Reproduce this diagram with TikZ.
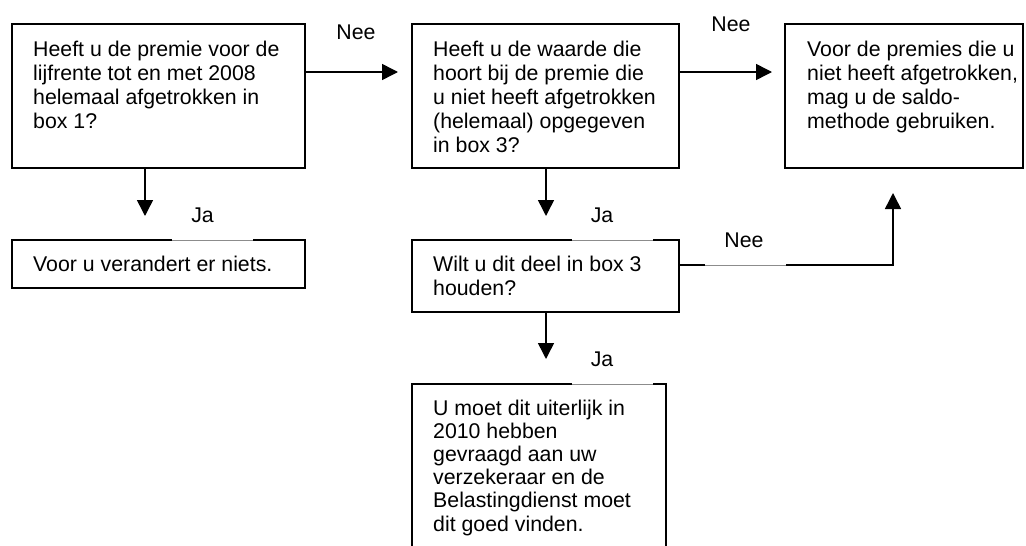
\documentclass[tikz,border=0pt]{standalone}
\usepackage{fontspec}
\setmainfont{Liberation Sans}
\usetikzlibrary{arrows.meta,calc}
\begin{document}
\begin{tikzpicture}[x=1pt,y=-1pt,
  box/.style={draw=black,line width=1.6pt,inner sep=0pt,outer sep=0pt,anchor=north west,rectangle},
  txt/.style={inner sep=0pt,anchor=north west,align=left,font=\fontsize{21.3pt}{24pt}\selectfont},
  lbl/.style={inner sep=0pt,anchor=base,font=\fontsize{21.3pt}{24pt}\selectfont},
  arr/.style={line width=1.5pt,-{Triangle[length=16pt,width=16pt]}},
  gapline/.style={draw=black!45,line width=0.6pt}]
\useasboundingbox (0,0) rectangle (1026,546);
\clip (0,0) rectangle (1026,546);
\fill[white] (0,0) rectangle (1026,546);
% boxes
\node[box,minimum width=293pt,minimum height=144pt] (b1) at (12,24) {};
\node[box,minimum width=267pt,minimum height=144pt] (b2) at (412,24) {};
\node[box,minimum width=238pt,minimum height=144pt] (b3) at (785,24) {};
\node[box,minimum width=293pt,minimum height=48pt] (bv) at (12,240) {};
\node[box,minimum width=267pt,minimum height=72pt] (b4) at (412,240) {};
\node[box,minimum width=254pt,minimum height=180pt] (b5) at (412,384) {};
% texts
\node[txt] (t1) at (33,40.5) {Heeft u de premie voor de\\lijfrente tot en met 2008\\helemaal afgetrokken in\\box 1?};
\node[txt] (t2) at (433,40.5) {Heeft u de waarde die\\hoort bij de premie die\\u niet heeft afgetrokken\\(helemaal) opgegeven\\in box 3?};
\node[txt] (t3) at (807,40.5) {Voor de premies die u\\niet heeft afgetrokken,\\mag u de saldo-\\methode gebruiken.};
\node[txt] (tv) at (33,255.5) {Voor u verandert er niets.};
\node[txt] (t4) at (433,255.5) {Wilt u dit deel in box 3\\houden?};
\node[txt,font=\fontsize{21.3pt}{23.2pt}\selectfont] (t5) at (433,399.5) {U moet dit uiterlijk in\\2010 hebben\\gevraagd aan uw\\verzekeraar en de\\Belastingdienst moet\\dit goed vinden.};
% connectors
\draw[arr,shorten >=14pt] ($(b1.north east)+(0,48)$) -- ($(b2.north west)+(0,48)$);
\draw[arr,shorten >=13pt] ($(b2.north east)+(0,48)$) -- ($(b3.north west)+(0,48)$);
\draw[arr,shorten >=24pt] ($(b1.south west)+(133,0)$) -- ($(bv.north west)+(133,0)$);
\draw[arr,shorten >=24pt] ($(b2.south west)+(134,0)$) -- ($(b4.north west)+(134,0)$);
\draw[arr,shorten >=25pt] ($(b4.south west)+(134,0)$) -- ($(b5.north west)+(134,0)$);
\draw[arr,shorten >=25pt] ($(b4.north east)+(0,25)$) -| ($(b3.south west)+(108,0)$);
% labels with their white boxes
\node[lbl] (nee1) at (356,39) {Nee};
\node[lbl] (nee2) at (731,31) {Nee};
\node[lbl] (nee3) at (744,247) {Nee};
\node[lbl] (ja1) at (202.5,222) {Ja};
\node[lbl] (ja2) at (602,222) {Ja};
\node[lbl] (ja3) at (602,366) {Ja};
\fill[white] (172,237) rectangle (253,243);
\draw[gapline] (172,240) -- (253,240);
\fill[white] (572,237) rectangle (653,243);
\draw[gapline] (572,240) -- (653,240);
\fill[white] (572,381) rectangle (653,387);
\draw[gapline] (572,384) -- (653,384);
\fill[white] (705,262) rectangle (786,268);
\draw[gapline] (705,265) -- (786,265);
\end{tikzpicture}
\end{document}
